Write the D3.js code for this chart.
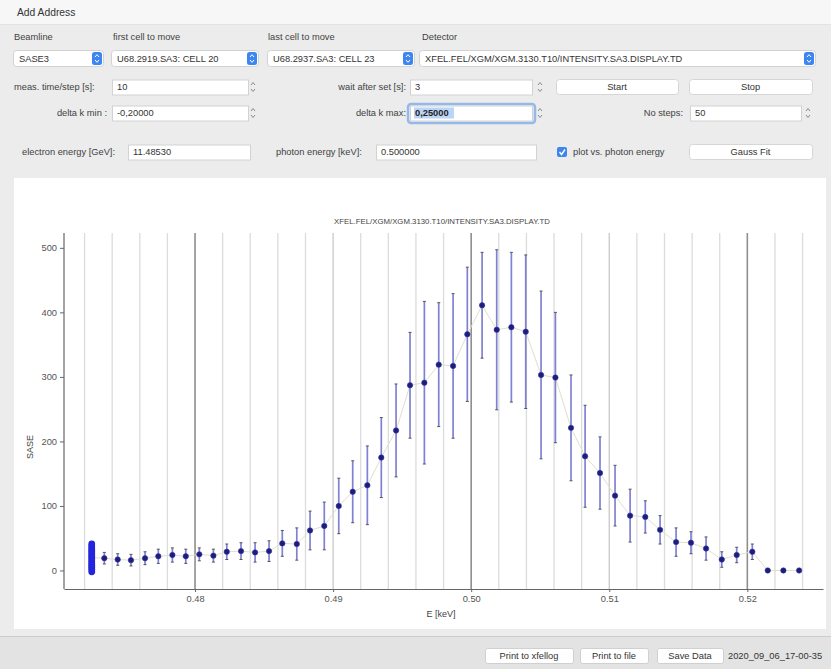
<!DOCTYPE html>
<html><head><meta charset="utf-8">
<script src="https://cdn.jsdelivr.net/npm/d3@7"></script>
<style>
body{margin:0;background:#ececec;}
svg{display:block;font-family:"Liberation Sans",Arial,Helvetica,sans-serif;}
</style>
</head><body>
<svg id="c" width="831" height="669"></svg>
<script>
// ---------------- data ----------------
const energy = [0.47252,0.47343,0.47440,0.47536,0.47638,0.47734,0.47836,0.47933,0.48031,0.48133,
  0.48230,0.48333,0.48435,0.48536,0.48632,0.48737,0.48833,0.48936,0.49041,0.49142,
  0.49248,0.49349,0.49456,0.49557,0.49661,0.49765,0.49869,0.49972,0.50079,0.50185,
  0.50291,0.50395,0.50506,0.50610,0.50723,0.50825,0.50933,0.51042,0.51151,0.51261,
  0.51368,0.51484,0.51592,0.51701,0.51815,0.51923,0.52036,0.52148,0.52261,0.52375];
const sase = [20,19,17,16,19,22,24,22,25,23,
  29,30,28,30,42,41,62,69,100,122,
  132,175,217,287,291,319,317,366,411,373,
  377,370,303,299,221,177,151,116,85,83,
  63,44,43,34,17,24,29,0,0,0];
const sigma = [0,9,9,9,10,11,11,11,10,10,
  12,13,15,16,20,25,30,37,43,48,
  61,62,72,82,126,96,112,104,82,124,
  116,119,130,101,82,79,56,47,41,25,
  22,22,17,18,12,12,12,0,0,0];
// individual samples recorded at the first step (drawn as a stacked column)
const firstStepSamples = [-2,2,5,8,11,14,17,20,23,26,29,32,35,38,41];
const xTickValues = [0.48,0.49,0.50,0.51,0.52];
const yTickValues = [0,100,200,300,400,500];
const gridValues = [0.472,0.474,0.476,0.478,0.480,0.482,0.484,0.486,0.488,0.490,0.492,0.494,0.496,0.498,
  0.500,0.502,0.504,0.506,0.508,0.510,0.512,0.514,0.516,0.518,0.520,0.522,0.524];
const majorGrid = [0.48,0.50,0.52];
const midGrid = [0.49,0.51];
const title = "XFEL.FEL/XGM/XGM.3130.T10/INTENSITY.SA3.DISPLAY.TD";

const svg = d3.select("#c");
const TXT = "#3f3f3f";

// ---------------- GUI ----------------
svg.append("rect").attr("x",0).attr("y",0).attr("width",831).attr("height",669).attr("fill","#ececec");
svg.append("rect").attr("x",0).attr("y",0).attr("width",831).attr("height",24).attr("fill","#f7f7f7");
svg.append("line").attr("x1",0).attr("x2",831).attr("y1",24.5).attr("y2",24.5).attr("stroke","#e2e2e2");

function label(x,y,str,anchor,size,color){
  return svg.append("text").attr("x",x).attr("y",y).attr("dy","0.35em")
    .attr("text-anchor",anchor||"start").attr("font-size",size||9.3).attr("fill",color||TXT).text(str);
}
function box(x,y,w,h,r){
  return svg.append("rect").attr("x",x+0.5).attr("y",y+0.5).attr("width",w).attr("height",h).attr("rx",r||0)
    .attr("fill","#fff").attr("stroke","#d2d2d2");
}
function spinner(x,cy){
  const g=svg.append("g").attr("fill","none").attr("stroke","#8a8a8a").attr("stroke-width",1);
  g.append("path").attr("d",`M${x-2},${cy-2} L${x},${cy-4.5} L${x+2},${cy-2}`);
  g.append("path").attr("d",`M${x-2},${cy+2} L${x},${cy+4.5} L${x+2},${cy+2}`);
}
function combo(x,w,str){
  const y=50,h=16;
  box(x,y,w,h,3);
  svg.append("rect").attr("x",x+w-11).attr("y",y+2).attr("width",10).attr("height",h-3).attr("rx",2.5).attr("fill","#3d86ef");
  const cx=x+w-6, cy=y+h/2+0.5;
  svg.append("path").attr("d",`M${cx-2},${cy-1.5} L${cx},${cy-3.8} L${cx+2},${cy-1.5} M${cx-2},${cy+1.5} L${cx},${cy+3.8} L${cx+2},${cy+1.5}`)
    .attr("fill","none").attr("stroke","#fff").attr("stroke-width",1);
  label(x+6,y+h/2+0.5,str,"start",9.3,"#333");
}
function input(x,cy,w,str){
  box(x,cy-7.5,w,15,0);
  label(x+5,cy,str,"start",9.3,"#333");
}
function button(x,cy,w,str){
  svg.append("rect").attr("x",x+0.5).attr("y",cy-7.5).attr("width",w).attr("height",15).attr("rx",3)
    .attr("fill","#fff").attr("stroke","#d6d6d6");
  label(x+w/2,cy,str,"middle",9.3,"#333");
}

label(17,12.5,"Add Address","start",10.3,"#333");

label(14,37,"Beamline");
label(113,37,"first cell to move");
label(268,37,"last cell to move");
label(422,37,"Detector");
combo(13,90,"SASE3");
combo(111,147,"U68.2919.SA3: CELL 20");
combo(267,147,"U68.2937.SA3: CELL 23");
combo(419,396,"XFEL.FEL/XGM/XGM.3130.T10/INTENSITY.SA3.DISPLAY.TD");

label(14,87,"meas. time/step [s]:");
input(112,87,136,"10"); spinner(253,87);
label(406,87,"wait after set [s]:","end");
input(410,87,122,"3"); spinner(540,87);
button(556,87,122,"Start");
button(689,87,123,"Stop");

label(107,113,"delta k min :","end");
input(112,113,136,"-0,20000"); spinner(253,113);
label(406,113,"delta k max:","end");
svg.append("rect").attr("x",408).attr("y",104).attr("width",127).attr("height",19).attr("rx",3)
  .attr("fill","none").attr("stroke","#95b8ea").attr("stroke-width",2.5);
box(410,105.5,122,15,0);
svg.append("rect").attr("x",414).attr("y",107.5).attr("width",40).attr("height",11).attr("fill","#bcd5f7");
label(415,113,"0,25000","start",9.3,"#222").attr("font-weight","bold");
spinner(540,113);
label(683,113,"No steps:","end");
input(690,113,111,"50"); spinner(808,113);

label(22,152,"electron energy [GeV]:");
input(128,152,122,"11.48530");
label(276,152,"photon energy [keV]:");
input(376,152,160,"0.500000");
svg.append("rect").attr("x",557).attr("y",147).attr("width",10).attr("height",10).attr("rx",2).attr("fill","#3d86ef");
svg.append("path").attr("d","M559.5,152 L561.5,154.5 L565,149.5").attr("fill","none").attr("stroke","#fff").attr("stroke-width",1.4);
label(573,152,"plot vs. photon energy");
button(689,152,123,"Gauss Fit");

svg.append("rect").attr("x",14).attr("y",178).attr("width",812).attr("height",451).attr("fill","#fff");

svg.append("rect").attr("x",0).attr("y",637).attr("width",831).attr("height",32).attr("fill","#e3e3e3");
svg.append("line").attr("x1",0).attr("x2",831).attr("y1",636.5).attr("y2",636.5).attr("stroke","#cdcdcd");
function bbutton(x,w,str){
  svg.append("rect").attr("x",x+0.5).attr("y",648.5).attr("width",w).attr("height",15).attr("rx",2)
    .attr("fill","#fff").attr("stroke","#d0d0d0");
  label(x+w/2,656,str,"middle",9.3,"#333");
}
bbutton(485,88,"Print to xfellog");
bbutton(580,68,"Print to file");
bbutton(657,66,"Save Data");
label(728,656,"2020_09_06_17-00-35","start",9.3,"#333");

// ---------------- chart ----------------
const x = d3.scaleLinear().domain([0.47051,0.52548]).range([64,823]);
const y = d3.scaleLinear().domain([-28.7,523]).range([589,233]);
const yTop = 233, yBot = 589;
const isIn = (arr,d)=>arr.some(m=>Math.abs(m-d)<1e-6);

svg.append("g").selectAll("line").data(gridValues).join("line")
  .attr("x1",d=>x(d)).attr("x2",d=>x(d)).attr("y1",yTop).attr("y2",yBot)
  .attr("stroke",d=>isIn(majorGrid,d)?"#8e8e8e":(isIn(midGrid,d)?"#c8c8c8":"#dcdcdc"))
  .attr("stroke-width",d=>isIn(majorGrid,d)?1.6:1.3);

svg.append("text").attr("x",442).attr("y",224).attr("text-anchor","middle").attr("font-size",7.8)
  .attr("fill","#444").text(title);

const xAxis = svg.append("g").attr("transform",`translate(0,${yBot})`)
  .call(d3.axisBottom(x).tickValues(xTickValues).tickFormat(d3.format(".2f")).tickSize(3).tickSizeOuter(0));
const yAxis = svg.append("g").attr("transform",`translate(64,0)`)
  .call(d3.axisLeft(y).tickValues(yTickValues).tickSize(4).tickSizeOuter(0));
[xAxis,yAxis].forEach(a=>{
  a.select(".domain").attr("stroke","#666").attr("stroke-width",1.2);
  a.selectAll(".tick line").attr("stroke","#666");
  a.selectAll(".tick text").attr("fill","#555").attr("font-size",9.3).attr("font-family","Liberation Sans, Arial, sans-serif");
});
yAxis.select(".domain").attr("d",`M0,${yTop}V${yBot}`);

svg.append("text").attr("transform",`translate(33,447) rotate(-90)`).attr("text-anchor","middle")
  .attr("font-size",9).attr("fill","#444").text("SASE");
svg.append("text").attr("x",441).attr("y",617).attr("text-anchor","middle")
  .attr("font-size",9).attr("fill","#444").text("E [keV]");

const pts = energy.map((e,i)=>({e, v:sase[i], s:sigma[i]}));

svg.append("path").datum(pts)
  .attr("d",d3.line().x(d=>x(d.e)).y(d=>y(d.v)))
  .attr("fill","none").attr("stroke","#e0e0c8").attr("stroke-width",1);

const eb = svg.append("g");
const withErr = pts.filter(d=>d.s>0);
eb.selectAll("line.bar").data(withErr).join("line").attr("class","bar")
  .attr("x1",d=>x(d.e)).attr("x2",d=>x(d.e)).attr("y1",d=>y(d.v-d.s)).attr("y2",d=>y(d.v+d.s))
  .attr("stroke","#6262c8").attr("stroke-opacity",0.8).attr("stroke-width",1.7);
eb.selectAll("path.cap").data(withErr).join("path").attr("class","cap")
  .attr("d",d=>`M${x(d.e)-1.5},${y(d.v-d.s)}h3M${x(d.e)-1.5},${y(d.v+d.s)}h3`)
  .attr("stroke","#555").attr("stroke-width",1);

svg.append("g").selectAll("circle").data(firstStepSamples).join("circle")
  .attr("cx",x(energy[0])).attr("cy",d=>y(d)).attr("r",3.4).attr("fill","#2424dc");

svg.append("g").selectAll("circle").data(pts.slice(1)).join("circle")
  .attr("cx",d=>x(d.e)).attr("cy",d=>y(d.v)).attr("r",2.7)
  .attr("fill","#1d1d7a").attr("stroke","#3535a8").attr("stroke-width",0.6);
</script>
</body></html>
